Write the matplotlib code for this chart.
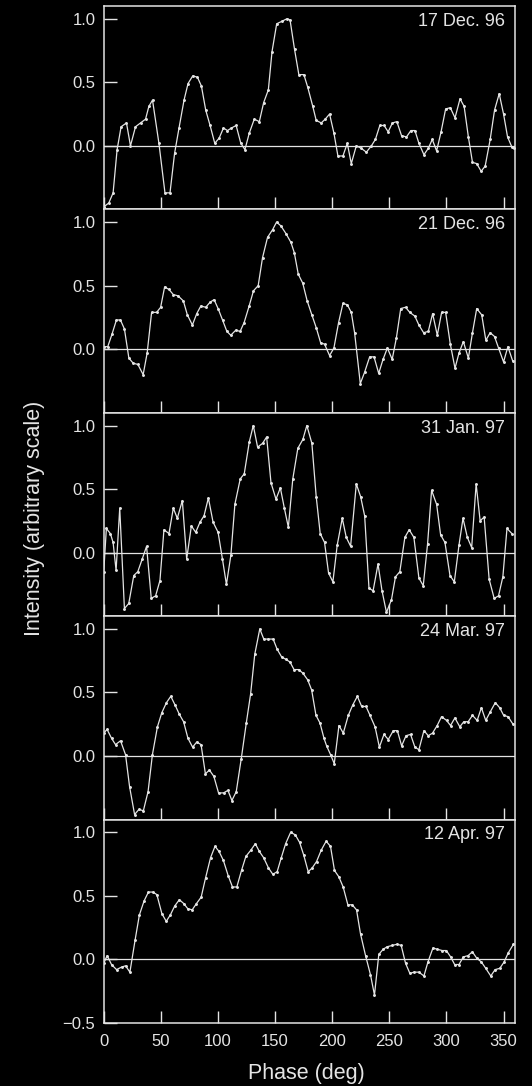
import matplotlib
matplotlib.use('Agg')
import matplotlib.pyplot as plt

# Pulse profiles, intensity (arbitrary scale) vs phase (deg)
phase_17dec = [0, 4.4, 8.2, 11.7, 15.2, 19.9, 23.4, 27.8, 32.2, 36.6,
               39.5, 42.7, 48.3, 53.6, 58, 62, 65.9, 70.3, 73.8, 77.9,
               82, 85.5, 89.3, 93.1, 97.2, 101, 104.8, 108.3, 111.8, 115.9,
               120, 123.6, 127.4, 131.8, 136.2, 140, 144.1, 147.3, 151.4, 156.1,
               160.5, 163.1, 167, 170.8, 175.2, 178.6, 183, 186, 190.4, 193.9,
               197.7, 201.5, 205, 209.4, 213.2, 216.7, 221.1, 225.5, 229.9, 234.3,
               237.8, 241.7, 245.4, 249, 252.7, 256.6, 260.7, 265, 268.9, 272.4,
               275.9, 280.3, 284.1, 287.6, 291.4, 295.3, 299.3, 303.4, 307.5, 311.9,
               315.5, 319.2, 322.8, 326.5, 330.4, 333.9, 338.3, 342.1, 346.2, 350,
               353.5, 357.3, 359.5]
int_17dec = [-0.48, -0.45, -0.37, -0.03, 0.15, 0.18, 0.0, 0.15, 0.18, 0.21,
             0.31, 0.36, 0.02, -0.37, -0.37, -0.06, 0.14, 0.36, 0.49, 0.55,
             0.54, 0.47, 0.28, 0.16, 0.02, 0.06, 0.14, 0.12, 0.14, 0.16,
             0.02, -0.03, 0.10, 0.21, 0.19, 0.34, 0.44, 0.74, 0.96, 0.98,
             1.0, 0.99, 0.76, 0.56, 0.56, 0.46, 0.31, 0.20, 0.18, 0.21,
             0.25, 0.10, -0.08, -0.08, 0.02, -0.14, 0.0, -0.02, -0.05, 0.0,
             0.05, 0.16, 0.16, 0.11, 0.18, 0.19, 0.08, 0.07, 0.12, 0.12,
             0.02, -0.07, -0.02, 0.05, -0.04, 0.11, 0.29, 0.30, 0.22, 0.37,
             0.31, 0.07, -0.13, -0.14, -0.20, -0.16, 0.05, 0.28, 0.41, 0.25,
             0.07, -0.01, -0.02]

phase_21dec = [0, 3.5, 7.3, 11.1, 14.6, 18.1, 22, 25.8, 29.9, 34.5,
               38, 41.9, 46.3, 49.8, 53.3, 57.1, 60.9, 65, 69.7, 73.2,
               77.6, 81.4, 85, 89.3, 93.1, 96.6, 100.1, 104, 107.8, 111.2,
               115.6, 119.4, 122.9, 127.3, 131.1, 135.2, 139, 143.4, 147.8, 151.3,
               155.1, 159.5, 163.9, 166.8, 170.3, 174.2, 178.1, 182.2, 186, 189.9,
               193.3, 197.7, 201.5, 205.6, 209.4, 213.2, 216.7, 219.6, 224.6, 228.4,
               232.8, 236.6, 240.7, 244.5, 248.3, 252.5, 256.2, 260, 264.2, 267.9,
               272.4, 275.9, 280, 284.1, 287.9, 292, 295.8, 299.3, 303.4, 307.5,
               311, 314.8, 319.2, 322.8, 326.5, 330.9, 334.5, 338.3, 342.1, 345.6,
               350, 353.8, 357.9]
int_21dec = [0.02, 0.02, 0.12, 0.23, 0.23, 0.16, -0.07, -0.11, -0.12, -0.20,
             -0.03, 0.29, 0.29, 0.33, 0.49, 0.47, 0.43, 0.42, 0.38, 0.27,
             0.19, 0.28, 0.34, 0.33, 0.37, 0.39, 0.32, 0.23, 0.14, 0.11,
             0.15, 0.14, 0.21, 0.34, 0.46, 0.50, 0.72, 0.88, 0.94, 1.0,
             0.97, 0.91, 0.84, 0.76, 0.59, 0.52, 0.38, 0.27, 0.17, 0.05,
             0.04, -0.05, 0.01, 0.21, 0.36, 0.35, 0.29, 0.13, -0.27, -0.18,
             -0.06, -0.06, -0.19, -0.08, 0.01, -0.08, 0.09, 0.32, 0.33, 0.29,
             0.26, 0.19, 0.13, 0.14, 0.28, 0.11, 0.29, 0.29, 0.04, -0.15,
             -0.03, 0.06, -0.07, 0.13, 0.32, 0.27, 0.07, 0.13, 0.10, 0.01,
             -0.10, 0.02, -0.09]

phase_31jan = [0, 2.3, 5.8, 8.2, 10.8, 14, 18.1, 21.9, 26.3, 29.8,
               33.7, 37.5, 41.6, 45.4, 49.2, 52.7, 57.1, 60.9, 64.4, 68.8,
               72.6, 76.7, 80.5, 84.3, 87.8, 91.6, 95.7, 100.1, 103.9, 107.4,
               111.3, 114.8, 119.5, 123, 127.4, 130.9, 134.7, 139.1, 142.6, 146.4,
               150.8, 154.6, 158.1, 161.6, 165.5, 169.9, 174.3, 177.8, 182.2, 186,
               189.5, 193.3, 196.8, 200.6, 204.4, 208.8, 212.3, 216.1, 221.1, 224.9,
               228.4, 232.2, 235.8, 240.1, 243.6, 247.5, 251.9, 255.4, 259.2, 263.6,
               267.4, 271.5, 275.9, 279.7, 283.5, 287, 291.4, 294.9, 298.7, 303.1,
               306.9, 311, 314.5, 318.3, 322.1, 326, 329.5, 333, 337.4, 341.8,
               345.6, 349.4, 353, 357.3]
int_31jan = [-0.15, 0.19, 0.15, 0.08, -0.14, 0.35, -0.44, -0.40, -0.18, -0.15,
             -0.05, 0.05, -0.36, -0.34, -0.22, 0.18, 0.15, 0.35, 0.27, 0.41,
             -0.05, 0.21, 0.16, 0.24, 0.29, 0.43, 0.24, 0.16, -0.05, -0.25,
             -0.02, 0.38, 0.58, 0.62, 0.87, 1.0, 0.83, 0.86, 0.91, 0.55,
             0.42, 0.51, 0.35, 0.20, 0.58, 0.82, 0.89, 1.0, 0.86, 0.44,
             0.15, 0.08, -0.16, -0.23, 0.06, 0.27, 0.12, 0.05, 0.54, 0.44,
             0.29, -0.28, -0.30, -0.09, -0.30, -0.47, -0.37, -0.19, -0.15, 0.12,
             0.18, 0.12, -0.20, -0.26, 0.07, 0.49, 0.38, 0.14, 0.08, -0.18,
             -0.23, 0.06, 0.27, 0.12, 0.04, 0.54, 0.25, 0.28, -0.21, -0.36,
             -0.34, -0.19, 0.19, 0.15]

phase_24mar = [0, 2.9, 6.8, 10.3, 14.7, 19.1, 22.6, 27, 30.8, 34.7,
               38.8, 42.6, 47, 50.8, 54.9, 58.7, 62.5, 66.1, 69.9, 73.7,
               77.8, 81.4, 85.2, 89, 92.5, 96.4, 100.5, 104.9, 108.7, 112.2,
               116, 120.4, 124.8, 128.6, 132.2, 136.6, 140.1, 143.9, 148.3, 151.8,
               155.7, 159.5, 163, 166.6, 170.8, 174.5, 178.5, 182, 185.8, 189.3,
               192.8, 195.1, 198.6, 201.8, 205.9, 209.7, 214.1, 217.9, 222, 225.8,
               229.6, 233.1, 237.5, 241.3, 245.3, 249.1, 253.5, 257, 260.8, 264.6,
               268.6, 272.4, 275.9, 280.3, 284.1, 287.8, 291.9, 295.7, 300.1, 303.6,
               307.4, 311.7, 315.2, 319, 322.8, 326.9, 330.6, 334.4, 338.5, 342.8,
               346.6, 350.1, 353.9, 358.3]
int_24mar = [0.18, 0.21, 0.14, 0.09, 0.12, 0.01, -0.24, -0.46, -0.42, -0.43,
             -0.28, 0.01, 0.23, 0.34, 0.42, 0.47, 0.40, 0.33, 0.27, 0.14,
             0.07, 0.11, 0.09, -0.14, -0.11, -0.16, -0.29, -0.29, -0.27, -0.35,
             -0.28, -0.02, 0.26, 0.49, 0.80, 1.0, 0.92, 0.92, 0.92, 0.84,
             0.78, 0.76, 0.74, 0.68, 0.68, 0.65, 0.60, 0.52, 0.32, 0.26,
             0.14, 0.08, 0.01, -0.06, 0.24, 0.18, 0.32, 0.40, 0.47, 0.39,
             0.39, 0.32, 0.23, 0.07, 0.17, 0.13, 0.20, 0.20, 0.08, 0.16,
             0.17, 0.07, 0.05, 0.20, 0.16, 0.18, 0.24, 0.31, 0.28, 0.24,
             0.30, 0.23, 0.27, 0.27, 0.32, 0.28, 0.38, 0.28, 0.35, 0.42,
             0.38, 0.32, 0.31, 0.25]

phase_12apr = [0, 3, 6.8, 11.2, 15.6, 19.1, 22.9, 27.4, 31.2, 35.3,
               39.1, 43, 46.5, 50.9, 54.7, 58.3, 62.1, 66.2, 70, 73.5,
               77.4, 81.2, 85.3, 89.1, 93.5, 97.4, 100.9, 104.7, 108.9, 112.7,
               116.5, 120.6, 124.4, 128.8, 132.7, 136.2, 140, 144.2, 148, 151.8,
               155.4, 159.2, 163.6, 167.7, 171.5, 175.1, 179, 182.5, 186.3, 190.4,
               194.7, 198.5, 202, 205.8, 209.6, 213.7, 217.5, 221.3, 224.8, 229.2,
               233.5, 237, 240.8, 244.6, 248.1, 252.5, 256.9, 260.4, 264.2, 268,
               271.5, 275.9, 280.3, 283.8, 288.2, 292, 296.4, 299.9, 303.7, 307.2,
               311, 314.8, 318.9, 322.7, 326.5, 330.6, 334.4, 338.8, 342.6, 346.7,
               350.5, 354, 358.7]
int_12apr = [-0.03, 0.03, -0.04, -0.08, -0.06, -0.05, -0.10, 0.15, 0.35, 0.46,
             0.53, 0.53, 0.51, 0.36, 0.30, 0.35, 0.42, 0.47, 0.44, 0.40,
             0.39, 0.44, 0.49, 0.64, 0.80, 0.89, 0.85, 0.78, 0.66, 0.57,
             0.57, 0.70, 0.81, 0.86, 0.91, 0.85, 0.80, 0.72, 0.67, 0.69,
             0.80, 0.91, 1.0, 0.98, 0.92, 0.82, 0.69, 0.72, 0.77, 0.86,
             0.93, 0.89, 0.70, 0.65, 0.57, 0.43, 0.43, 0.39, 0.20, 0.03,
             -0.12, -0.28, 0.04, 0.08, 0.10, 0.11, 0.12, 0.11, -0.03, -0.11,
             -0.10, -0.10, -0.13, -0.02, 0.09, 0.08, 0.07, 0.07, 0.02, -0.04,
             -0.04, 0.02, 0.03, 0.06, 0.01, -0.02, -0.07, -0.13, -0.08, -0.07,
             -0.02, 0.05, 0.12]

dates = ['17 Dec. 96', '21 Dec. 96', '31 Jan. 97', '24 Mar. 97', '12 Apr. 97']
phases = [phase_17dec, phase_21dec, phase_31jan, phase_24mar, phase_12apr]
intensities = [int_17dec, int_21dec, int_31jan, int_24mar, int_12apr]

FG = '#e4e4e4'
plt.rcParams['font.family'] = ['Liberation Sans', 'DejaVu Sans']

fig, axes = plt.subplots(5, 1, sharex=True, figsize=(5.32, 10.86), dpi=100,
                         facecolor='black')
fig.subplots_adjust(left=0.195, right=0.968, bottom=0.058, top=0.9945, hspace=0)

for ax, ph, val, lab in zip(axes, phases, intensities, dates):
    ax.set_facecolor('black')
    ax.plot(ph, val, color=FG, lw=0.9, marker='o', ms=1.1)
    ax.axhline(0, color=FG, lw=0.9)
    ax.set_xlim(0, 360)
    ax.set_ylim(-0.5, 1.1)
    ax.set_yticks([0.0, 0.5, 1.0])
    ax.set_xticks(range(0, 360, 50))
    ax.tick_params(direction='in', length=9, width=1, color=FG,
                   labelcolor=FG, labelsize=12, pad=6)
    ax.tick_params(axis='x', pad=8)
    for s in ax.spines.values():
        s.set_color(FG)
        s.set_linewidth(1.1)
    ax.text(0.975, 0.925, lab, transform=ax.transAxes, ha='right', va='center',
            color=FG, fontsize=13)

axes[-1].set_yticks([-0.5, 0.0, 0.5, 1.0])

fig.text(35 / 532, 1 - 518 / 1086, 'Intensity (arbitrary scale)', rotation=90,
         ha='center', va='center', color=FG, fontsize=15.5)
fig.text(306 / 532, 1 - 1073 / 1086, 'Phase (deg)', ha='center', va='center',
         color=FG, fontsize=15.5)

fig.savefig('out.png', dpi=100, facecolor='black')
